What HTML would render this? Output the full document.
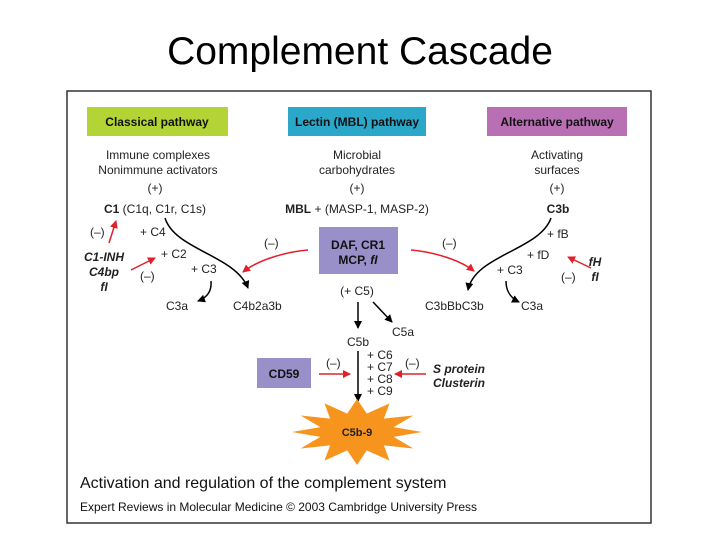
<!DOCTYPE html>
<html><head><meta charset="utf-8"><style>
html,body{margin:0;padding:0;background:#fff;}
svg{display:block;font-family:"Liberation Sans",Arial,sans-serif;}
</style></head><body>
<svg width="720" height="540" viewBox="0 0 720 540" xmlns="http://www.w3.org/2000/svg">
<defs>
<marker id="ak" markerWidth="8" markerHeight="8" refX="7" refY="4" orient="auto" markerUnits="userSpaceOnUse"><path d="M0,0 L8,4 L0,8 Z" fill="#000"/></marker>
<marker id="ar" markerWidth="8" markerHeight="8" refX="7" refY="4" orient="auto" markerUnits="userSpaceOnUse"><path d="M0,0 L8,4 L0,8 Z" fill="#e0202a"/></marker>
</defs>
<text x="360" y="64" font-size="39" text-anchor="middle" fill="#000">Complement Cascade</text>
<rect x="67" y="91" width="584" height="432" fill="#fff" stroke="#333" stroke-width="1.5"/>

<rect x="87" y="107" width="141" height="29" fill="#b4d334"/>
<rect x="288" y="107" width="138" height="29" fill="#2aa7c9"/>
<rect x="487" y="107" width="140" height="29" fill="#b86fb4"/>
<g font-size="12" font-weight="bold" text-anchor="middle" fill="#111">
<text x="157" y="126">Classical pathway</text>
<text x="357" y="126">Lectin (MBL) pathway</text>
<text x="557" y="126">Alternative pathway</text>
</g>

<g font-size="12" fill="#222">
<g text-anchor="middle">
<text x="158" y="159">Immune complexes</text>
<text x="158" y="174">Nonimmune activators</text>
<text x="155" y="192">(+)</text>
<text x="357" y="159">Microbial</text>
<text x="357" y="174">carbohydrates</text>
<text x="357" y="192">(+)</text>
<text x="357" y="213"><tspan font-weight="bold">MBL</tspan> + (MASP-1, MASP-2)</text>
<text x="557" y="159">Activating</text>
<text x="557" y="174">surfaces</text>
<text x="557" y="192">(+)</text>
<text x="558" y="213" font-weight="bold">C3b</text>
<text x="104" y="261" font-weight="bold" font-style="italic">C1-INH</text>
<text x="104" y="276" font-weight="bold" font-style="italic">C4bp</text>
<text x="104" y="291" font-weight="bold" font-style="italic">fI</text>
<text x="595" y="266" font-weight="bold" font-style="italic">fH</text>
<text x="595" y="281" font-weight="bold" font-style="italic">fI</text>
<text x="357" y="295">(+ C5)</text>
<text x="358" y="346">C5b</text>
</g>
<text x="104" y="213"><tspan font-weight="bold">C1</tspan> (C1q, C1r, C1s)</text>
<text x="90" y="236">(–)</text>
<text x="140" y="236">+ C4</text>
<text x="161" y="258">+ C2</text>
<text x="140" y="280">(–)</text>
<text x="191" y="273">+ C3</text>
<text x="166" y="310">C3a</text>
<text x="233" y="310">C4b2a3b</text>
<text x="264" y="247">(–)</text>
<text x="442" y="247">(–)</text>
<text x="547" y="238">+ fB</text>
<text x="527" y="259">+ fD</text>
<text x="497" y="274">+ C3</text>
<text x="561" y="281">(–)</text>
<text x="425" y="310">C3bBbC3b</text>
<text x="521" y="310">C3a</text>
<text x="392" y="336">C5a</text>
<text x="367" y="359">+ C6</text>
<text x="367" y="371">+ C7</text>
<text x="367" y="383">+ C8</text>
<text x="367" y="395">+ C9</text>
<text x="326" y="367">(–)</text>
<text x="405" y="367">(–)</text>
<text x="433" y="373" font-weight="bold" font-style="italic">S protein</text>
<text x="433" y="387" font-weight="bold" font-style="italic">Clusterin</text>
</g>

<rect x="319" y="227" width="79" height="47" fill="#9a90c9"/>
<text x="358" y="249" font-size="12" font-weight="bold" text-anchor="middle" fill="#111">DAF, CR1</text>
<text x="358" y="264" font-size="12" font-weight="bold" text-anchor="middle" fill="#111">MCP, <tspan font-style="italic">fI</tspan></text>

<rect x="257" y="358" width="54" height="30" fill="#9a90c9"/>
<text x="284" y="378" font-size="12" font-weight="bold" text-anchor="middle" fill="#111">CD59</text>

<g fill="none" stroke="#000" stroke-width="1.5">
<path d="M165,218 C175,250 235,255 248,288" marker-end="url(#ak)"/>
<path d="M211,281 C212,292 206,298 198,301" marker-end="url(#ak)"/>
<path d="M551,218 C540,250 475,255 468,290" marker-end="url(#ak)"/>
<path d="M506,281 C506,292 511,298 519,302" marker-end="url(#ak)"/>
<path d="M358,302 L358,328" marker-end="url(#ak)"/>
<path d="M373,302 L392,322" marker-end="url(#ak)"/>
<path d="M358,351 L358,401" marker-end="url(#ak)"/>
</g>
<g fill="none" stroke="#e0202a" stroke-width="1.5">
<path d="M109,243 L116,221" marker-end="url(#ar)"/>
<path d="M131,270 L155,258" marker-end="url(#ar)"/>
<path d="M308,250 C285,252 258,260 243,272" marker-end="url(#ar)"/>
<path d="M411,250 C434,252 460,260 474,271" marker-end="url(#ar)"/>
<path d="M591,268 L568,257" marker-end="url(#ar)"/>
<path d="M319,374 L350,374" marker-end="url(#ar)"/>
<path d="M426,374 L395,374" marker-end="url(#ar)"/>
</g>

<polygon fill="#f7941d" points="422,432 393.7,436.9 413.3,448.5 383.9,445.4 389.5,460.6 366.8,450.4 357,465 347.2,450.4 324.5,460.6 330.1,445.4 300.7,448.5 320.3,436.9 292,432 320.3,427.1 300.7,415.5 330.1,418.6 324.5,403.4 347.2,413.6 357,399 366.8,413.6 389.5,403.4 383.9,418.6 413.3,415.5 393.7,427.1"/>
<text x="357" y="436" font-size="11" font-weight="bold" text-anchor="middle" fill="#222">C5b-9</text>

<text x="80" y="488" font-size="16" fill="#111">Activation and regulation of the complement system</text>
<text x="80" y="511" font-size="12" fill="#111">Expert Reviews in Molecular Medicine © 2003 Cambridge University Press</text>
</svg>
</body></html>
